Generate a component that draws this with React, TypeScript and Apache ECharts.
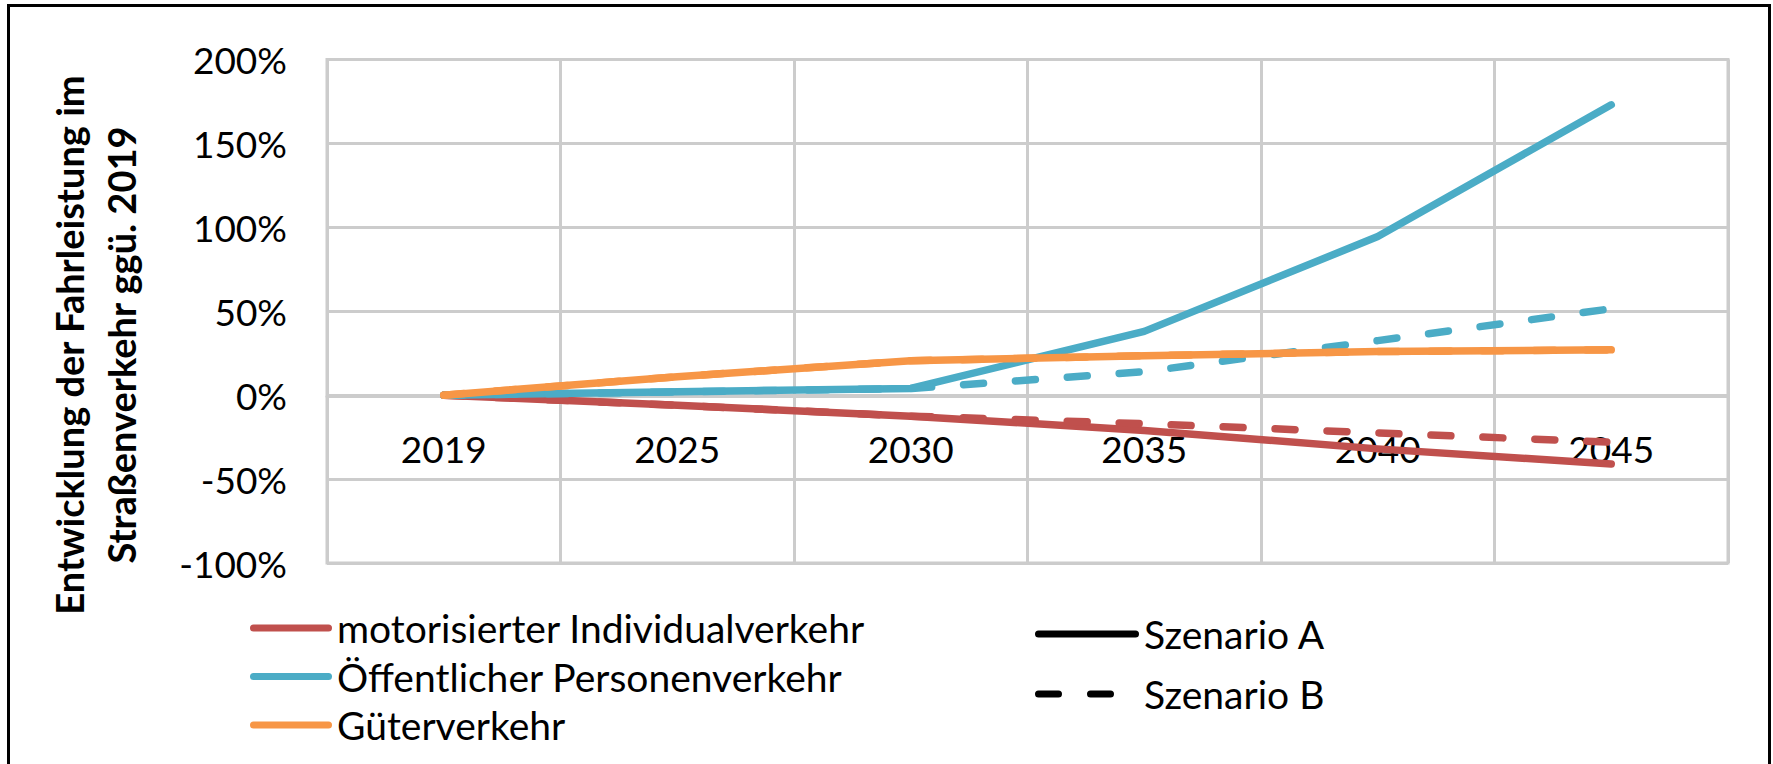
import React, { useEffect, useRef } from 'react';
import * as echarts from 'echarts';

// ---- data (percent change vs. 2019) ----
const years = ['2019', '2025', '2030', '2035', '2040', '2045'];
const mivA = [0, -6, -12.5, -21, -32, -41];
const mivB = [0, -6, -12.5, -17, -22.5, -28];
const oepvA = [0, 2, 4, 38, 94.5, 173];
const oepvB = [0, 2, 4, 14, 32.5, 51.5];
const gvA = [0, 11, 20.5, 23.5, 26, 27];
const gvB = [0, 11, 20.5, 23.5, 26, 27];

const categoryNames = ['motorisierter Individualverkehr', 'Öffentlicher Personenverkehr', 'Güterverkehr'];
const scenarioNames = ['Szenario A', 'Szenario B'];
const yMin = -100;
const yMax = 200;
const yStep = 50;
const yTitle = 'Entwicklung der Fahrleistung im\nStraßenverkehr ggü. 2019';

const COLORS = ['#C0504D', '#4BACC6', '#F79646'];
const GRID = '#cccccc';
const FONT = 'Lato';

const pill = (w: number, h: number) =>
  `path://M${h / 2},0H${w - h / 2}A${h / 2},${h / 2},0,0,1,${w - h / 2},${h}H${h / 2}A${h / 2},${h / 2},0,0,1,${h / 2},0Z`;
const dashIcon =
  'path://M3.5,0H23.5A3.5,3.5,0,0,1,23.5,7H3.5A3.5,3.5,0,0,1,3.5,0Z' +
  'M55.5,0H75.5A3.5,3.5,0,0,1,75.5,7H55.5A3.5,3.5,0,0,1,55.5,0Z' +
  'M103.9,3.45H104V3.55H103.9Z';

export default function App() {
  const ref = useRef<HTMLDivElement>(null);
  useEffect(() => {
    if (!ref.current) return;
    const chart = echarts.init(ref.current, null, { renderer: 'svg' });
    const line = (name: string, data: number[], color: string, dashed: boolean) => ({
      type: 'line',
      name,
      data,
      symbol: 'none',
      showSymbol: false,
      silent: true,
      color,
      itemStyle: { color },
      lineStyle: {
        color,
        width: 7.5,
        type: dashed ? [20, 32] : 'solid',
        cap: 'round',
        join: 'round',
      },
      emphasis: { disabled: true },
    });
    const series: any[] = [
      line(categoryNames[0], mivA, COLORS[0], false),
      line(categoryNames[0], mivB, COLORS[0], true),
      line(categoryNames[1], oepvA, COLORS[1], false),
      line(categoryNames[1], oepvB, COLORS[1], true),
      line(categoryNames[2], gvA, COLORS[2], false),
      line(categoryNames[2], gvB, COLORS[2], true),
      line(scenarioNames[0], [], '#000', false),
      line(scenarioNames[1], [], '#000', true),
    ];
    const textStyle = { fontFamily: FONT, fontSize: 39, color: '#000', lineHeight: 40 };
    chart.setOption({
      animation: false,
      backgroundColor: '#fff',
      grid: {
        left: 327,
        right: 45,
        top: 59.5,
        bottom: 201,
        show: true,
        borderColor: GRID,
        borderWidth: 3,
        outerBoundsMode: 'none',
        containLabel: false,
      },
      xAxis: {
        type: 'category',
        data: years,
        boundaryGap: true,
        offset: -167,
        axisLine: { show: true, onZero: false, lineStyle: { color: GRID, width: 3 } },
        axisTick: { show: false },
        axisLabel: { interval: 0, margin: 34, fontFamily: FONT, fontSize: 37, color: '#000' },
        splitLine: { show: true, interval: 0, lineStyle: { color: GRID, width: 3 } },
      },
      yAxis: {
        type: 'value',
        min: yMin,
        max: yMax,
        interval: yStep,
        axisLine: { show: false },
        axisTick: { show: false },
        axisLabel: { margin: 40, formatter: '{value}%', fontFamily: FONT, fontSize: 37, color: '#000' },
        splitLine: { show: true, lineStyle: { color: GRID, width: 3 } },
      },
      legend: [
        {
          data: categoryNames.map((n) => ({ name: n, icon: pill(82, 7) })),
          orient: 'vertical',
          left: 250,
          top: 608,
          padding: 0,
          itemWidth: 82,
          itemHeight: 7,
          itemGap: 8.5,
          selectedMode: false,
          itemStyle: { borderWidth: 0 },
          textStyle,
        },
        {
          data: [
            { name: scenarioNames[0], icon: pill(104, 7) },
            { name: scenarioNames[1], icon: dashIcon },
          ],
          orient: 'vertical',
          left: 1035,
          top: 614,
          padding: 0,
          itemWidth: 104,
          itemHeight: 7,
          itemGap: 20,
          selectedMode: false,
          itemStyle: { borderWidth: 0 },
          textStyle,
        },
      ],
      graphic: [
        {
          type: 'rect',
          silent: true,
          z: 100,
          shape: { x: 8.5, y: 5.5, width: 1761, height: 820 },
          style: { fill: 'none', stroke: '#000', lineWidth: 3 },
        },
        {
          type: 'text',
          silent: true,
          x: 95,
          y: 345,
          rotation: Math.PI / 2,
          style: {
            text: yTitle,
            font: `bold 38px ${FONT}`,
            fill: '#000',
            align: 'center',
            verticalAlign: 'middle',
            lineHeight: 52,
          },
        },
      ],
      series,
    });
    return () => chart.dispose();
  }, []);
  return (
    <div
      ref={ref}
      style={{ position: 'fixed', left: 0, top: 0, width: 1773, height: 764, background: '#fff' }}
    />
  );
}
